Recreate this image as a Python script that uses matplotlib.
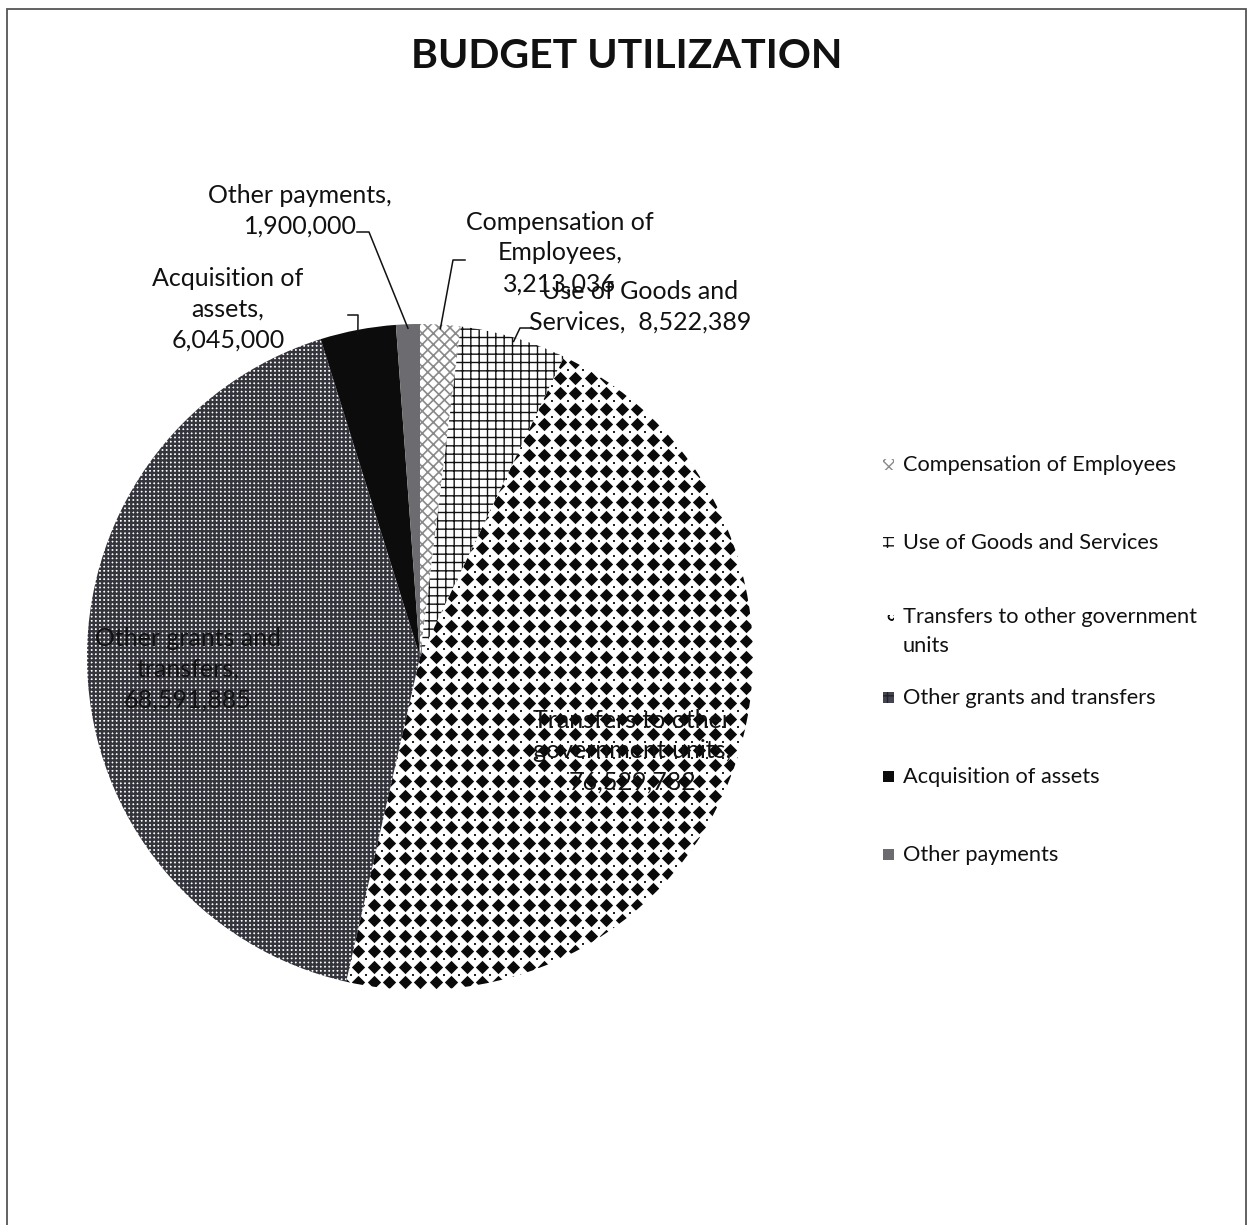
import numpy as np
import matplotlib
matplotlib.use("Agg")
import matplotlib.pyplot as plt
from matplotlib.patches import Rectangle
from matplotlib.lines import Line2D

plt.rcParams["font.family"] = ["Lato", "DejaVu Sans"]

categories = ["Compensation of Employees", "Use of Goods and Services",
              "Transfers to other government units", "Other grants and transfers",
              "Acquisition of assets", "Other payments"]
amounts = [3213036, 8522389, 76529782, 68591885, 6045000, 1900000]
label_names = ["Compensation of\nEmployees,\n", "Use of Goods and\nServices,  ",
               "Transfers to other\ngovernment units,\n", "Other grants and\ntransfers,\n",
               "Acquisition of\nassets,\n", "Other payments,\n"]
legend_names = ["Compensation of Employees", "Use of Goods and Services",
                "Transfers to other government\nunits", "Other grants and transfers",
                "Acquisition of assets", "Other payments"]

W, H = 1253, 1225
fig = plt.figure(figsize=(W / 100, H / 100), dpi=100)


def fx(x, y):
    return x / W, 1 - y / H


# chart frame
fig.patches.append(Rectangle(fx(7, 1240), (1246 - 7) / W, (1240 - 9) / H,
                             transform=fig.transFigure, fill=False,
                             edgecolor="#555555", linewidth=1.3))

fig.text(*fx(627, 57), "BUDGET UTILIZATION", ha="center", va="center",
         fontsize=29.5, fontweight="bold", color="#111111")

cx, cy, r = 420, 657, 333
ax = fig.add_axes([(cx - r) / W, (H - cy - r) / H, 2 * r / W, 2 * r / H])

styles = [
    dict(facecolor="white", edgecolor="#8a8a8a", hatch="xxx"),
    dict(facecolor="white", edgecolor="#111111", hatch="++"),
    dict(facecolor="white", edgecolor="white", hatch=None),
    dict(facecolor="white", edgecolor="#34343c", hatch="++++"),
    dict(facecolor="#0c0c0c", edgecolor="#0c0c0c", hatch=None),
    dict(facecolor="#6c6c70", edgecolor="#6c6c70", hatch=None),
]

wedges, _ = ax.pie(amounts, startangle=90, counterclock=False, radius=1)
for w, st in zip(wedges, styles):
    w.set_facecolor(st["facecolor"])
    w.set_edgecolor(st["edgecolor"])
    w.set_linewidth(0)
    if st["hatch"]:
        w.set_hatch(st["hatch"])
ax.set_xlim(-1, 1)
ax.set_ylim(-1, 1)
ax.axis("off")
try:
    wedges[3].set_hatch_linewidth(1.7)
    wedges[0].set_hatch_linewidth(1.2)
except AttributeError:
    plt.rcParams["hatch.linewidth"] = 1.5

# diamond texture for transfers slice
step = 15.5 / r
g = np.arange(-1 + step / 2, 1, step)
gx, gy = np.meshgrid(g, g)
sc = ax.scatter(gx.ravel(), gy.ravel(), marker="D", s=46, color="#0a0a0a",
                linewidths=0, zorder=3)
sc.set_clip_path(wedges[2])
sc2 = ax.scatter((gx + step / 2).ravel(), (gy + step / 2).ravel(), marker="s", s=1.5,
                 color="#222222", linewidths=0, zorder=3)
sc2.set_clip_path(wedges[2])

# edge points at wedge mid-angles
total = sum(amounts)
fr = np.cumsum([0] + amounts[:-1]) / total + np.array(amounts) / total / 2
mid_ang = np.radians(90 - 360 * fr)
edge = [(cx + r * np.cos(a), cy - r * np.sin(a)) for a in mid_ang]

vals = [f"{v:,}" for v in amounts]
LS = 1.42

# outside labels: (text center, anchor start, knee)
outside = {
    0: ((560, 253), (465, 260), (453, 260)),
    1: ((640, 307), (533, 328), (520, 328)),
    4: ((228, 309), (348, 315), (358, 315)),
    5: ((300, 211), (357, 232), (369, 232)),
}
for i, (tc, a0, k) in outside.items():
    fig.text(*fx(*tc), label_names[i] + vals[i], ha="center", va="center",
             fontsize=18, linespacing=LS, color="#111111")
    xs = [a0[0], k[0], edge[i][0]]
    ys = [a0[1], k[1], edge[i][1] + 4]
    fig.lines.append(Line2D([x / W for x in xs], [1 - y / H for y in ys],
                            transform=fig.transFigure, color="#111111", linewidth=1.1))

inside = {3: (188, 669), 2: (632, 751)}
for i, tc in inside.items():
    fig.text(*fx(*tc), label_names[i] + vals[i], ha="center", va="center",
             fontsize=18, linespacing=LS, color="#111111", zorder=5)

# legend
leg_y = [465, 543, 621, 698, 777, 855]
for i, y in enumerate(leg_y):
    st = styles[i]
    rect = Rectangle(fx(883, y + 5), 11 / W, 11 / H, transform=fig.transFigure,
                     facecolor=st["facecolor"] if i != 2 else "white",
                     edgecolor=st["edgecolor"] if i != 2 else "#111111",
                     hatch=st["hatch"] if i not in (2, 3) else ("o" if i == 2 else "++"),
                     linewidth=0)
    if i == 3:
        rect.set_facecolor("#444450")
        rect.set_edgecolor("#222228")
    fig.patches.append(rect)
    txt = legend_names[i]
    if "\n" in txt:
        fig.text(*fx(903, y - 14), txt, ha="left", va="top",
                 fontsize=15.7, linespacing=1.55, color="#111111")
    else:
        fig.text(*fx(903, y), txt, ha="left", va="center",
                 fontsize=15.7, color="#111111")

fig.savefig("out.png", dpi=100)
